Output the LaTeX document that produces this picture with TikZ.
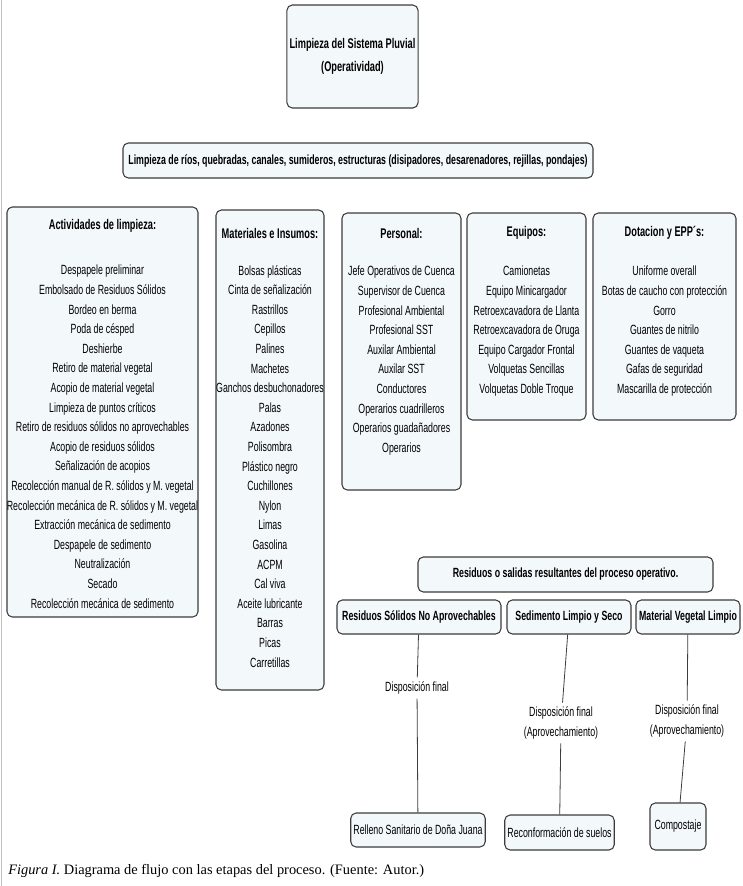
\documentclass[tikz,border=0pt]{standalone}
\usepackage{fontspec}
\setmainfont{Liberation Serif}
\newfontfamily\boxfont{Liberation Sans}[FakeStretch=0.66]
\definecolor{boxfill}{RGB}{243,248,251}
\definecolor{boxline}{RGB}{60,60,60}

\begin{document}
\begin{tikzpicture}[x=0.75pt,y=-0.75pt]
        \tikzset{panel/.style={draw=boxline,fill=boxfill,rounded corners=4pt,line width=0.8pt,
                inner sep=2pt,align=center,font=\boxfont\fontsize{10}{12}\selectfont},
            boldpanel/.style={panel,font=\boxfont\bfseries\fontsize{10}{16}\selectfont},
            head/.style={font=\boxfont\bfseries\fontsize{10.5}{12}\selectfont,inner sep=0pt},
            items/.style={font=\boxfont\fontsize{10}{14.7}\selectfont,align=center,inner sep=0pt,anchor=north},
            note/.style={font=\boxfont\fontsize{10}{14.7}\selectfont,align=center,inner sep=3pt},
            link/.style={draw=boxline,line width=0.6pt}}
        \useasboundingbox (0,0) rectangle (743,886);
        \draw[gray!50] (1,0) -- (1,886);

        \node[boldpanel,font=\boxfont\bfseries\fontsize{10.5}{17}\selectfont,minimum width=96.75pt,minimum height=77.25pt] (sistema) at (352.5,56.5)
            {Limpieza del Sistema Pluvial\\(Operatividad)};
        \node[boldpanel,minimum width=352.5pt,minimum height=26.25pt] (limpieza) at (358,160.5)
            {Limpieza de ríos, quebradas, canales, sumideros, estructuras (disipadores, desarenadores, rejillas, pondajes)};

        \node[panel,minimum width=143.25pt,minimum height=307.5pt] (actividades) at (102.5,412) {};
        \node[head] (actividadest) at (102.5,226) {Actividades de limpieza:};
        \node[items] (actividadesl) at (102.5,265) {Despapele preliminar\\Embolsado de Residuos Sólidos\\Bordeo en berma\\Poda de césped\\Deshierbe\\Retiro de material vegetal\\Acopio de material vegetal\\Limpieza de puntos críticos\\Retiro de residuos sólidos no aprovechables\\Acopio de residuos sólidos\\Señalización de acopios\\Recolección manual de R. sólidos y M. vegetal\\Recolección mecánica de R. sólidos y M. vegetal\\Extracción mecánica de sedimento\\Despapele de sedimento\\Neutralización\\Secado\\Recolección mecánica de sedimento};

        \node[panel,minimum width=81pt,minimum height=360pt] (materiales) at (270,450) {};
        \node[head] (materialest) at (270,233) {Materiales e Insumos:};
        \node[items] (materialesl) at (270,265) {Bolsas plásticas\\Cinta de señalización\\Rastrillos\\Cepillos\\Palines\\Machetes\\Ganchos desbuchonadores\\Palas\\Azadones\\Polisombra\\Plástico negro\\Cuchillones\\Nylon\\Limas\\Gasolina\\ACPM\\Cal viva\\Aceite lubricante\\Barras\\Picas\\Carretillas};

        \node[panel,minimum width=89.25pt,minimum height=207.75pt] (personal) at (401.5,351.5) {};
        \node[head] (personalt) at (401.5,233) {Personal:};
        \node[items] (personall) at (401.5,266) {Jefe Operativos de Cuenca\\Supervisor de Cuenca\\Profesional Ambiental\\Profesional SST\\Auxilar Ambiental\\Auxilar SST\\Conductores\\Operarios cuadrilleros\\Operarios guadañadores\\Operarios};

        \node[panel,minimum width=89.25pt,minimum height=155.25pt] (equipos) at (526.5,316.5) {};
        \node[head] (equipost) at (526.5,233) {Equipos:};
        \node[items] (equiposl) at (526.5,266) {Camionetas\\Equipo Minicargador\\Retroexcavadora de Llanta\\Retroexcavadora de Oruga\\Equipo Cargador Frontal\\Volquetas Sencillas\\Volquetas Doble Troque};

        \node[panel,minimum width=107.25pt,minimum height=155.25pt] (dotacion) at (664.5,316.5) {};
        \node[head] (dotaciont) at (664.5,233) {Dotacion y EPP´s:};
        \node[items] (dotacionl) at (664.5,266) {Uniforme overall\\Botas de caucho con protección\\Gorro\\Guantes de nitrilo\\Guantes de vaqueta\\Gafas de seguridad\\Mascarilla de protección};

        \node[boldpanel,minimum width=221.25pt,minimum height=26.25pt] (salidas) at (565.5,574.5)
            {Residuos o salidas resultantes del proceso operativo.};
        \node[boldpanel,minimum width=123pt,minimum height=25.5pt] (solidos) at (419,617) {Residuos Sólidos No Aprovechables};
        \node[boldpanel,minimum width=93pt,minimum height=25.5pt] (sedimento) at (569,617) {Sedimento Limpio y Seco};
        \node[boldpanel,minimum width=78pt,minimum height=25.5pt] (vegetal) at (688,617) {Material Vegetal Limpio};

        \node[note] (disp1) at (417,688) {Disposición final};
        \node[note] (disp2) at (561,723) {Disposición final\\(Aprovechamiento)};
        \node[note] (disp3) at (687,721) {Disposición final\\(Aprovechamiento)};

        \node[panel,minimum width=99pt,minimum height=25.5pt] (relleno) at (418,830) {Relleno Sanitario de Doña Juana};
        \node[panel,minimum width=78.75pt,minimum height=26.25pt] (suelos) at (559.5,832.5) {Reconformación de suelos};
        \node[panel,minimum width=42pt,minimum height=35.25pt] (compostaje) at (678,826.5) {Compostaje};

        \draw[link] (solidos) -- (disp1);
        \draw[link] (disp1) -- (relleno);
        \draw[link] (sedimento) -- (disp2);
        \draw[link] (disp2) -- (suelos);
        \draw[link] (vegetal) -- (disp3);
        \draw[link] (disp3) -- (compostaje);

        \node[anchor=base west,inner sep=0pt,font=\fontsize{10.8}{13}\selectfont] (caption) at (8,874)
            {\textit{Figura I.} Diagrama de flujo con las etapas del proceso. (Fuente: Autor.)};
\end{tikzpicture}
\end{document}
